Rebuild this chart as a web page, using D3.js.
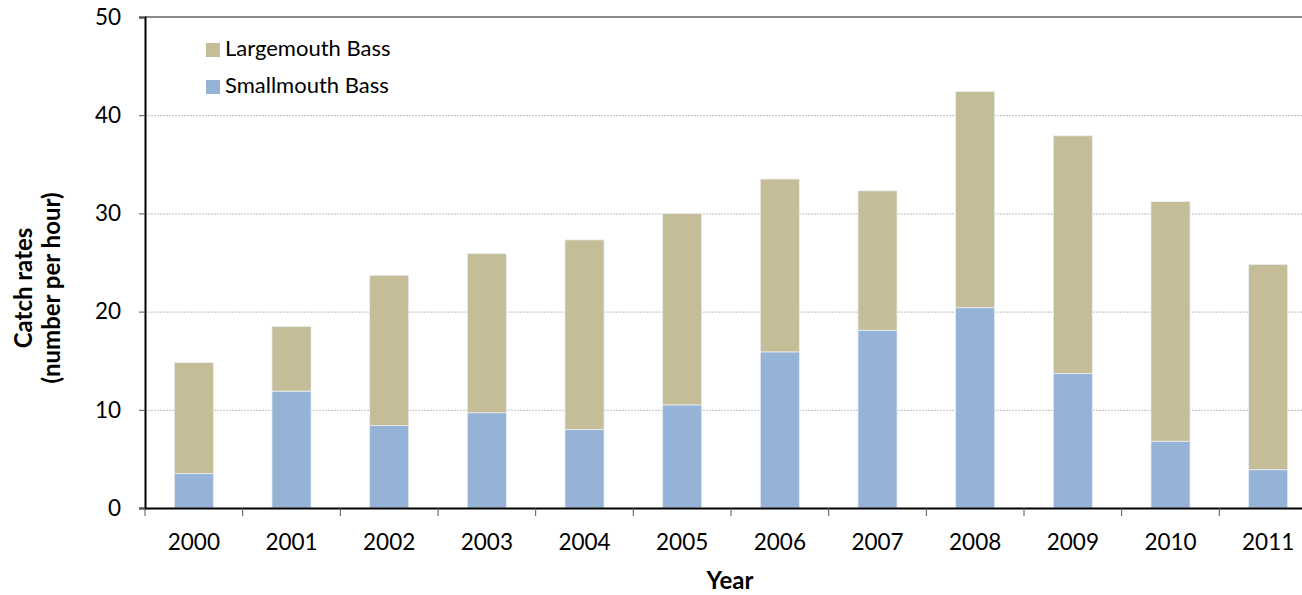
<!DOCTYPE html>
<html>
<head>
<meta charset="utf-8">
<script src="https://cdn.jsdelivr.net/npm/d3@7"></script>
<style>
  body { margin: 0; background: #fff; }
  svg { display: block; font-family: Lato, "Open Sans", sans-serif; }
</style>
</head>
<body>
<div id="viz"></div>
<script>
// data
const years = ["2000", "2001", "2002", "2003", "2004", "2005", "2006", "2007", "2008", "2009", "2010", "2011"];
const smallmouth = [3.5, 11.9, 8.4, 9.7, 8.0, 10.5, 15.9, 18.1, 20.4, 13.7, 6.8, 3.9];
const largemouthTotal = [14.8, 18.5, 23.7, 25.9, 27.3, 30.0, 33.5, 32.3, 42.4, 37.9, 31.2, 24.8];
const largemouth = largemouthTotal.map((t, i) => +(t - smallmouth[i]).toFixed(1));
const yTicks = [0, 10, 20, 30, 40, 50];

const width = 1302, height = 595;
const margin = { top: 17, left: 145, bottom: 87 };
const plotRight = 1317;
const font = "Lato, 'Open Sans', sans-serif";

const svg = d3.select("#viz").append("svg")
    .attr("width", width)
    .attr("height", height);

const x = d3.scaleBand()
    .domain(years)
    .range([margin.left, plotRight])
    .paddingInner(0.6)
    .paddingOuter(0.3);

const y = d3.scaleLinear()
    .domain([0, 50])
    .range([height - margin.bottom, margin.top]);

// gridlines
svg.append("g")
  .selectAll("line")
  .data(yTicks.filter(d => d > 0 && d < 50))
  .join("line")
    .attr("x1", margin.left)
    .attr("x2", plotRight)
    .attr("y1", d => y(d) + 0.5)
    .attr("y2", d => y(d) + 0.5)
    .attr("stroke", "#bdbdbd")
    .attr("stroke-width", 1)
    .attr("stroke-dasharray", "2,1");

// stacked bars
const rows = years.map((yr, i) => ({ year: yr, small: smallmouth[i], large: largemouth[i] }));
const stack = d3.stack().keys(["small", "large"])(rows);
const colors = { small: "#95B3D7", large: "#C4BD97" };

svg.append("g")
  .selectAll("g")
  .data(stack)
  .join("g")
    .attr("fill", d => colors[d.key])
  .selectAll("rect")
  .data(d => d)
  .join("rect")
    .attr("x", d => x(d.data.year))
    .attr("y", d => y(d[1]))
    .attr("width", x.bandwidth())
    .attr("height", d => y(d[0]) - y(d[1]))
    .attr("stroke", "#e8eef4")
    .attr("stroke-width", 0.8);

// top border
svg.append("line")
    .attr("x1", margin.left).attr("x2", plotRight)
    .attr("y1", y(50)).attr("y2", y(50))
    .attr("stroke", "#8a8a8a").attr("stroke-width", 2);

// y axis
const yAxis = svg.append("g")
    .attr("transform", `translate(${margin.left},0)`)
    .call(d3.axisLeft(y).tickValues(yTicks).tickSize(6).tickPadding(18));
yAxis.select(".domain").attr("stroke", "#000").attr("stroke-width", 2);
yAxis.selectAll(".tick line").attr("stroke", "#555");
yAxis.selectAll("text").attr("font-size", 22.5).attr("fill", "#000")
    .attr("font-family", font);

// x axis
const xAxis = svg.append("g")
    .attr("transform", `translate(0,${y(0)})`)
    .call(d3.axisBottom(x).tickSize(0).tickPadding(26));
xAxis.select(".domain").attr("stroke", "#000").attr("stroke-width", 2);
xAxis.selectAll("text").attr("font-size", 22.5).attr("fill", "#000")
    .attr("font-family", font);

// category separator ticks
svg.append("g")
  .selectAll("line")
  .data(years)
  .join("line")
    .attr("x1", d => x(d) - x.step() * x.paddingInner() / 2)
    .attr("x2", d => x(d) - x.step() * x.paddingInner() / 2)
    .attr("y1", y(0))
    .attr("y2", y(0) + 8)
    .attr("stroke", "#555")
    .attr("stroke-width", 1);

// axis titles
svg.append("text")
    .attr("x", 730)
    .attr("y", 589)
    .attr("text-anchor", "middle")
    .attr("font-size", 24)
    .attr("font-weight", "bold")
    .text("Year");

const yTitle = svg.append("text")
    .attr("transform", "translate(32,288) rotate(-90)")
    .attr("text-anchor", "middle")
    .attr("font-size", 24)
    .attr("font-weight", "bold");
yTitle.append("tspan").attr("x", 0).attr("dy", 0).text("Catch rates");
yTitle.append("tspan").attr("x", 0).attr("dy", 28).text("(number per hour)");

// legend
const legendItems = [
  { label: "Largemouth Bass", key: "large" },
  { label: "Smallmouth Bass", key: "small" }
];
const legend = svg.append("g")
  .selectAll("g")
  .data(legendItems)
  .join("g")
    .attr("transform", (d, i) => `translate(206,${43 + i * 37})`);
legend.append("rect")
    .attr("width", 14).attr("height", 14)
    .attr("fill", d => colors[d.key]);
legend.append("text")
    .attr("x", 19).attr("y", 13)
    .attr("font-size", 22)
    .text(d => d.label);
</script>
</body>
</html>
